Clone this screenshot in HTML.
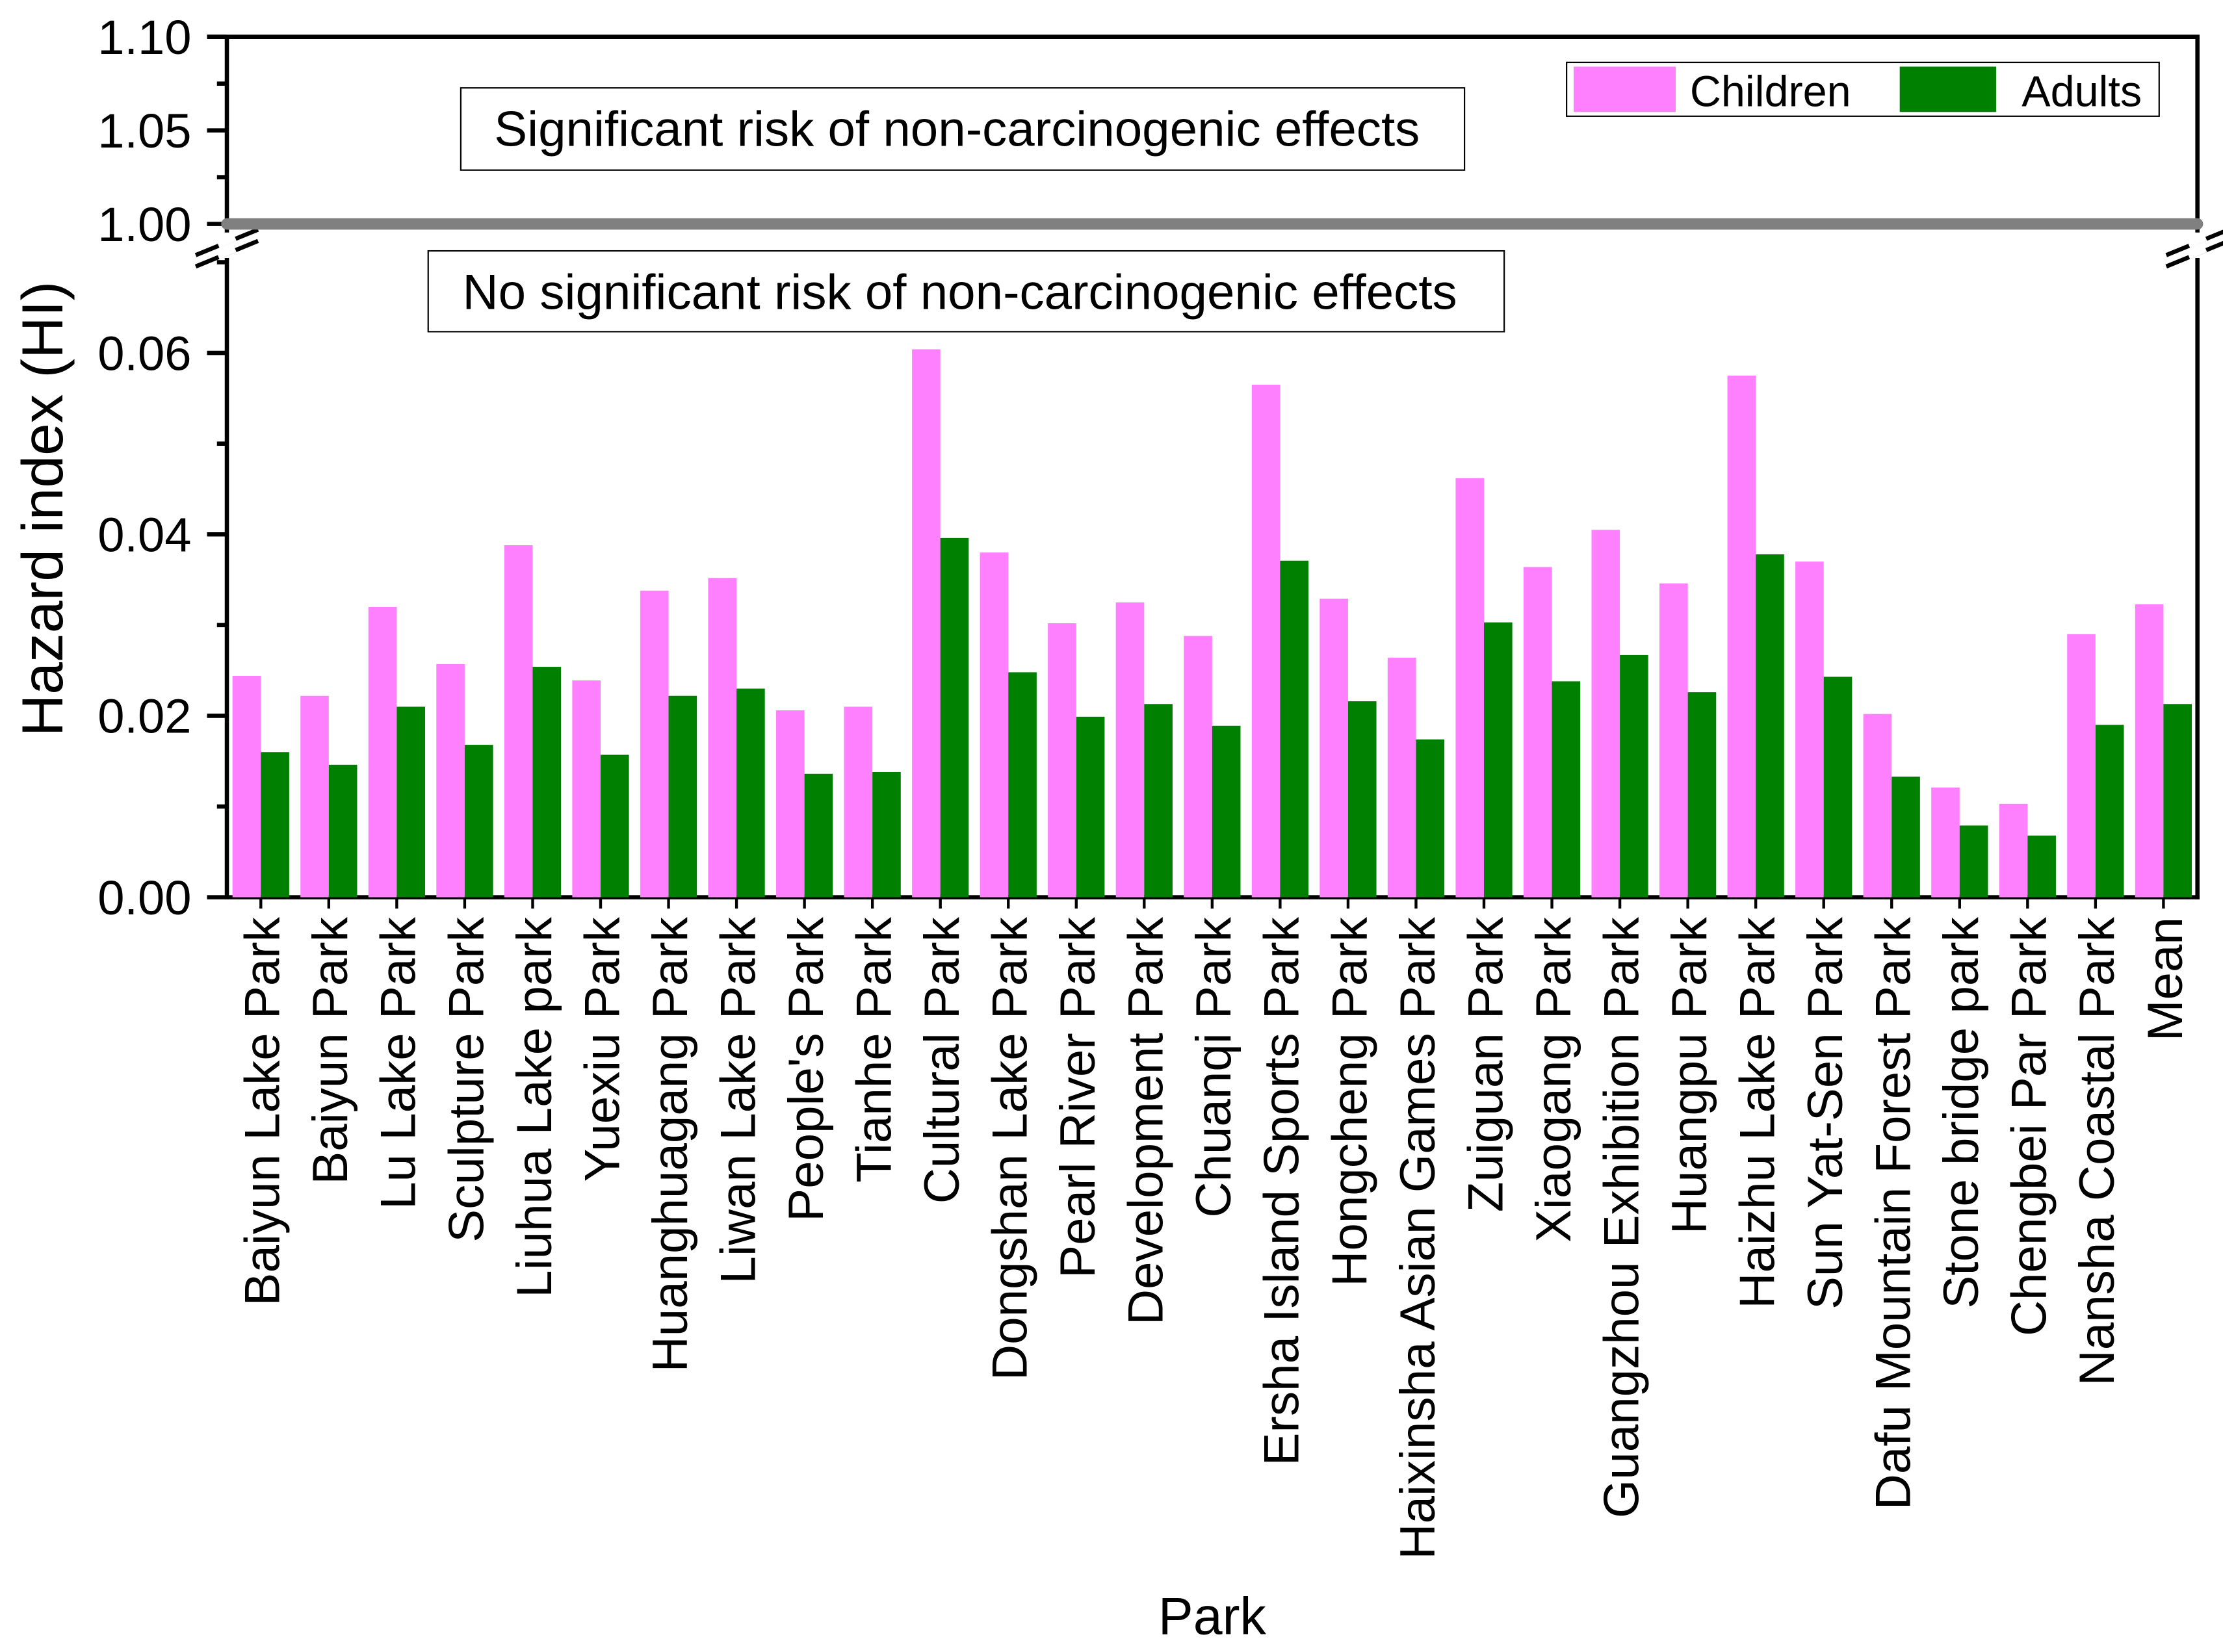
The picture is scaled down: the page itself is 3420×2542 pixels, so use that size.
<!DOCTYPE html>
<html><head><meta charset="utf-8"><style>html,body{margin:0;padding:0;background:#fff}svg{display:block}text{font-family:"Liberation Sans",Arial,sans-serif;fill:#000}</style></head>
<body>
<svg id="chart" xmlns="http://www.w3.org/2000/svg" width="3420" height="2542" viewBox="0 0 1568 1165.5">
<g id="axes"></g>
<g id="bars"></g>
<g id="labels"></g>
<rect x="325" y="62" width="708" height="58" fill="#fff" stroke="#000" stroke-width="1"/>
<text x="675" y="103" font-size="35" text-anchor="middle">Significant risk of non-carcinogenic effects</text>
<rect x="302" y="177" width="759" height="57" fill="#fff" stroke="#000" stroke-width="1"/>
<text x="677" y="218" font-size="35" text-anchor="middle">No significant risk of non-carcinogenic effects</text>
<g>
<rect x="1105" y="44" width="418" height="38" fill="#fff" stroke="#000" stroke-width="1"/>
<rect x="1110" y="47" width="72" height="32" fill="#ff80ff"/>
<text x="1192" y="75" font-size="30.5">Children</text>
<rect x="1340" y="47" width="68" height="32" fill="#008000"/>
<text x="1426" y="75" font-size="30.5">Adults</text>
</g>
<text transform="translate(44,359) rotate(-90)" font-size="41" text-anchor="middle">Hazard index (HI)</text>
<text x="855" y="1153" font-size="37" text-anchor="middle">Park</text>
</svg>
<script>
const categories=["Baiyun Lake Park","Baiyun Park","Lu Lake Park","Sculpture Park","Liuhua Lake park","Yuexiu Park","Huanghuagang Park","Liwan Lake Park","People's Park","Tianhe Park","Cultural Park","Dongshan Lake Park","Pearl River Park","Development Park","Chuanqi Park","Ersha Island Sports Park","Hongcheng Park","Haixinsha Asian Games Park","Zuiguan Park","Xiaogang Park","Guangzhou Exhibition Park","Huangpu Park","Haizhu Lake Park","Sun Yat-Sen Park","Dafu Mountain Forest Park","Stone bridge park","Chengbei Par Park","Nansha Coastal Park","Mean"];
const children=[0.0244,0.0222,0.0320,0.0257,0.0388,0.0239,0.0338,0.0352,0.0206,0.0210,0.0604,0.0380,0.0302,0.0325,0.0288,0.0565,0.0329,0.0264,0.0462,0.0364,0.0405,0.0346,0.0575,0.0370,0.0202,0.0121,0.0103,0.0290,0.0323];
const adults=[0.0160,0.0146,0.0210,0.0168,0.0254,0.0157,0.0222,0.0230,0.0136,0.0138,0.0396,0.0248,0.0199,0.0213,0.0189,0.0371,0.0216,0.0174,0.0303,0.0238,0.0267,0.0226,0.0378,0.0243,0.0133,0.0079,0.0068,0.0190,0.0213];
const lowTicks=[0,0.02,0.04,0.06];
const lowTickLabels=["0.00","0.02","0.04","0.06"];
const highTicks=[1.00,1.05,1.10];
const highTickLabels=["1.00","1.05","1.10"];
const NS="http://www.w3.org/2000/svg";
const X0=160,X1=1550,Y0=633;
const step=(X1-X0)/categories.length;
function yLow(v){return Y0-v*6400;}
function yHigh(v){return 158-(v-1.0)*1320;}
function xc(i){return X0+step*(i+0.5);}
function mk(tag,attrs,parent){const e=document.createElementNS(NS,tag);for(const k in attrs)e.setAttribute(k,attrs[k]);parent.appendChild(e);return e;}
const axes=document.getElementById('axes'),bars=document.getElementById('bars'),labels=document.getElementById('labels');
let e;
e=mk('line',{x1:X0,y1:26,x2:X0,y2:164,stroke:'#000','stroke-width':3},axes);


e=mk('line',{x1:X0,y1:182,x2:X0,y2:Y0+1.5,stroke:'#000','stroke-width':3},axes);


e=mk('line',{x1:X1,y1:26,x2:X1,y2:164,stroke:'#000','stroke-width':3},axes);


e=mk('line',{x1:X1,y1:182,x2:X1,y2:Y0+1.5,stroke:'#000','stroke-width':3},axes);


e=mk('line',{x1:X0-14,y1:26,x2:X1+1.5,y2:26,stroke:'#000','stroke-width':3},axes);


e=mk('line',{x1:X0,y1:Y0,x2:X1+1.5,y2:Y0,stroke:'#000','stroke-width':3},axes);


[[X0],[X1]].forEach(([bx])=>{[168,176].forEach(by=>{
 e=mk('line',{x1:bx-22,y1:by+12,x2:bx+22,y2:by-6,stroke:'#000','stroke-width':3},axes);
 
 
 e=mk('line',{x1:bx-6,y1:by+5,x2:bx+6,y2:by,stroke:'#fff','stroke-width':4},axes);
 
 
});});
highTicks.forEach((t,i)=>{const y=yHigh(t);
 e=mk('line',{x1:X0-14,y1:y,x2:X0,y2:y,stroke:'#000','stroke-width':3},axes);
 
 
 e=mk('text',{x:X0-25,y:y+12,'font-size':34,'text-anchor':'end'},axes);e.textContent=highTickLabels[i];
 
 
 if(i<highTicks.length-1){const ym=yHigh(t+0.025);
  e=mk('line',{x1:X0-7,y1:ym,x2:X0,y2:ym,stroke:'#000','stroke-width':3},axes);
  
  }
});
lowTicks.forEach((t,i)=>{const y=yLow(t);
 e=mk('line',{x1:X0-14,y1:y,x2:X0,y2:y,stroke:'#000','stroke-width':3},axes);
 
 
 e=mk('text',{x:X0-25,y:y+12,'font-size':34,'text-anchor':'end'},axes);e.textContent=lowTickLabels[i];
 
 
 const ym=yLow(t+0.01);
 e=mk('line',{x1:X0-7,y1:ym,x2:X0,y2:ym,stroke:'#000','stroke-width':3},axes);
 
 
});
const bw=20;
categories.forEach((c,i)=>{const x=xc(i);
 e=mk('rect',{x:x-bw,y:yLow(children[i]),width:bw,height:Y0-yLow(children[i]),fill:'#ff80ff'},bars);
 
 
 e=mk('rect',{x:x,y:yLow(adults[i]),width:bw,height:Y0-yLow(adults[i]),fill:'#008000'},bars);
 
 
 e=mk('line',{x1:x,y1:Y0,x2:x,y2:Y0+8,stroke:'#000','stroke-width':2},axes);
 
 
 e=mk('text',{transform:`translate(${x+13},647) rotate(-90)`,'font-size':35,'text-anchor':'end'},labels);e.textContent=c;
 
 
});
e=mk('line',{x1:X0,y1:158,x2:X1,y2:158,stroke:'#808080','stroke-width':8,'stroke-linecap':'round'},axes);


</script>
</body></html>
